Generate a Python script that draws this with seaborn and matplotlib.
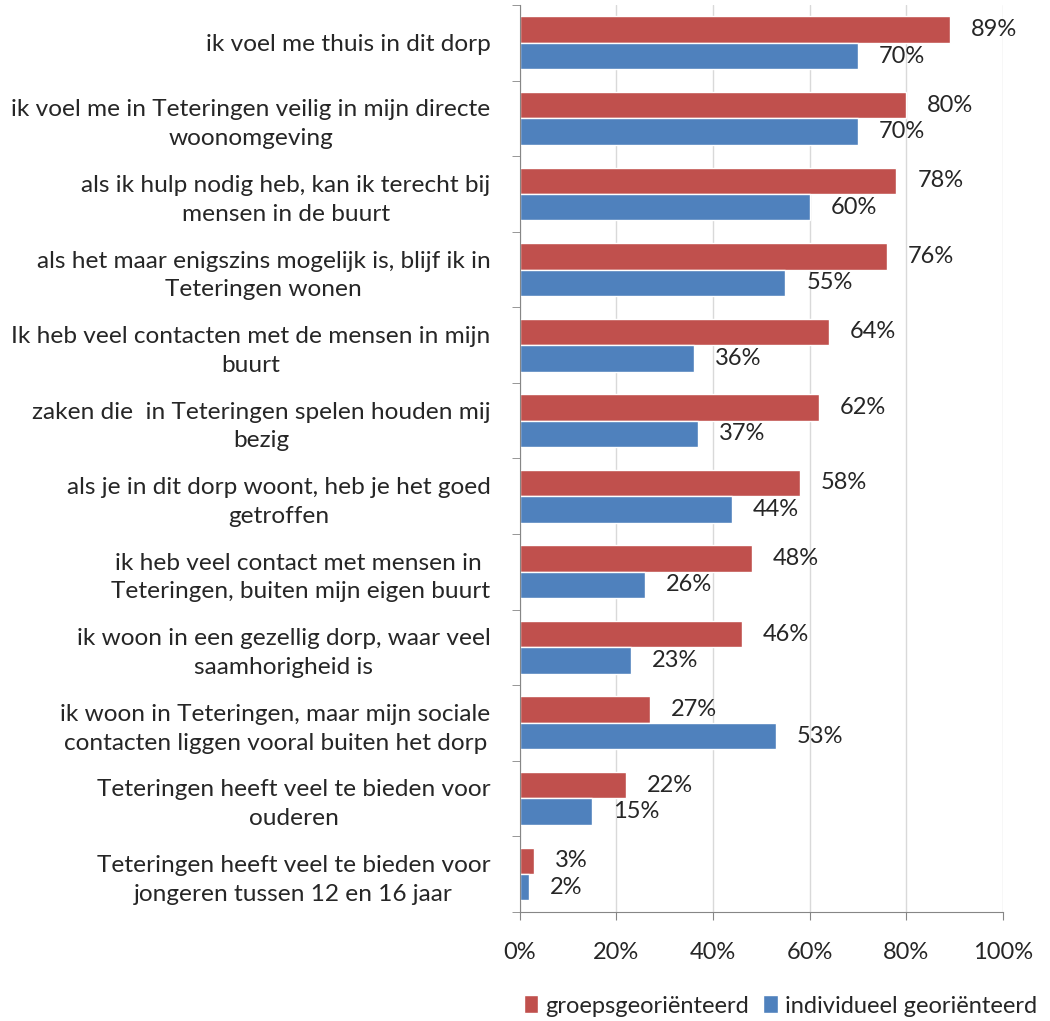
import matplotlib
matplotlib.use('Agg')
import matplotlib.pyplot as plt
import pandas as pd
import seaborn as sns
from matplotlib.ticker import FixedLocator

# %%
statements = [
    'ik voel me thuis in dit dorp',
    'ik voel me in Teteringen veilig in mijn directe\nwoonomgeving',
    'als ik hulp nodig heb, kan ik terecht bij\nmensen in de buurt',
    'als het maar enigszins mogelijk is, blijf ik in\nTeteringen wonen',
    'Ik heb veel contacten met de mensen in mijn\nbuurt',
    'zaken die  in Teteringen spelen houden mij\nbezig',
    'als je in dit dorp woont, heb je het goed\ngetroffen',
    'ik heb veel contact met mensen in \nTeteringen, buiten mijn eigen buurt',
    'ik woon in een gezellig dorp, waar veel\nsaamhorigheid is',
    'ik woon in Teteringen, maar mijn sociale\ncontacten liggen vooral buiten het dorp',
    'Teteringen heeft veel te bieden voor\nouderen',
    'Teteringen heeft veel te bieden voor\njongeren tussen 12 en 16 jaar',
]
groeps = [89, 80, 78, 76, 64, 62, 58, 48, 46, 27, 22, 3]
individueel = [70, 70, 60, 55, 36, 37, 44, 26, 23, 53, 15, 2]
series = ['groepsgeoriënteerd', 'individueel georiënteerd']
xticks = [0, 20, 40, 60, 80, 100]

df = pd.DataFrame({
    'statement': statements * 2,
    'value': groeps + individueel,
    'groep': [series[0]] * len(statements) + [series[1]] * len(statements),
})

# %%
sns.set_style('white')
plt.rcParams['font.family'] = ['Lato', 'DejaVu Sans']
txtcol = '#262626'

fig = plt.figure(figsize=(10.5, 10.21), dpi=100)
ax = fig.add_axes([0.495, 0.107, 0.46, 0.888])

sns.barplot(data=df, y='statement', x='value', hue='groep', orient='h',
            palette=['#C0504D', '#4F81BD'], width=0.7, saturation=1,
            ax=ax, legend=True)

for cont in ax.containers:
    ax.bar_label(cont, labels=[f'{v:.0f}%' for v in cont.datavalues],
                 padding=15, fontsize=17, color=txtcol)

ax.set_xlim(0, 100)
ax.set_ylim(len(statements) - 0.5, -0.5)
ax.set_xticks(xticks)
ax.set_xticklabels([f'{t}%' for t in xticks], fontsize=17, color=txtcol)
ax.set_xlabel('')
ax.set_ylabel('')
ax.xaxis.grid(True, color='#d9d9d9', linewidth=1)
ax.set_axisbelow(True)

for lab in ax.get_yticklabels():
    lab.set_multialignment('center')
    lab.set_fontsize(17.6)
    lab.set_linespacing(1.45)
    lab.set_color(txtcol)
ax.tick_params(axis='y', length=0, pad=21)
ax.yaxis.set_minor_locator(FixedLocator([i + 0.5 for i in range(-1, len(statements))]))
ax.tick_params(axis='y', which='minor', left=True, length=6, color='#868686')
ax.tick_params(axis='x', bottom=True, length=6, color='#868686', pad=16)

ax.spines['top'].set_visible(False)
ax.spines['right'].set_visible(False)
ax.spines['left'].set_color('#868686')
ax.spines['bottom'].set_color('#868686')

ax.legend(loc='center', bbox_to_anchor=(0.54, -0.104), ncol=2, frameon=False,
          fontsize=17, handlelength=0.6, handleheight=0.8, handletextpad=0.3,
          columnspacing=0.6, labelcolor=txtcol, borderpad=0)

plt.savefig('out.png', dpi=100)
